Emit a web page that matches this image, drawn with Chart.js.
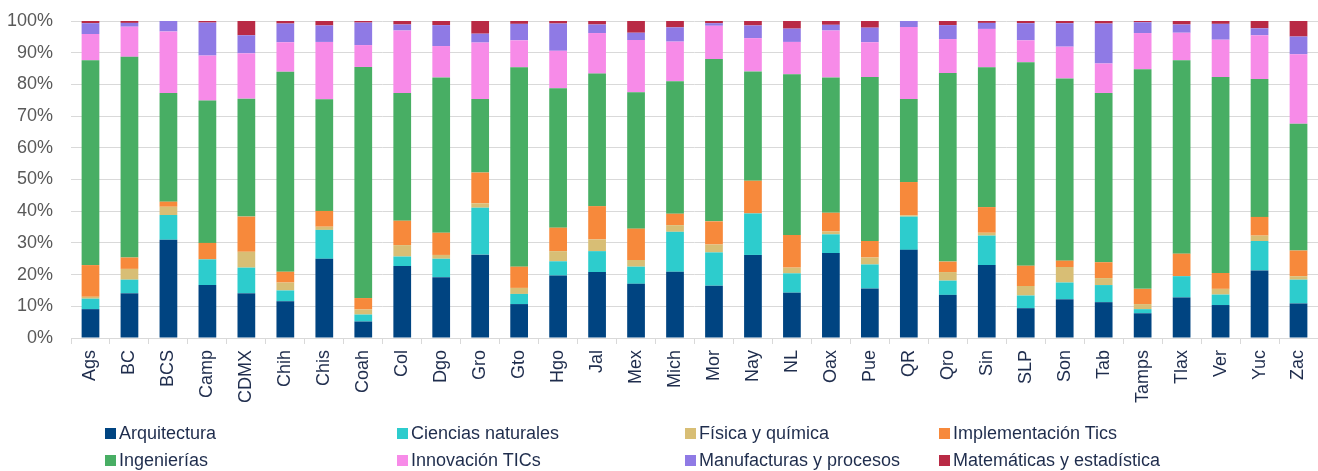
<!DOCTYPE html>
<html>
<head>
<meta charset="utf-8">
<script src="https://cdn.jsdelivr.net/npm/chart.js@4"></script>
<style>
  html, body { margin: 0; padding: 0; background: #ffffff; }
  #wrap { position: relative; width: 1318px; height: 471px; overflow: hidden; }
  #legend { position: absolute; left: 0; top: 0; width: 1318px; height: 471px; pointer-events: none; }
  .li { position: absolute; display: flex; align-items: center; height: 22px; white-space: nowrap;
        font-family: "Liberation Sans", Arial, sans-serif; font-size: 18px; color: #1f2d4d; }
  .sw { width: 11px; height: 11px; margin-right: 3px; flex: none; }
</style>
</head>
<body>
<div id="wrap">
  <canvas id="c" width="1318" height="471"></canvas>
  <div id="legend"></div>
</div>
<script>
const categories = ["Ags","BC","BCS","Camp","CDMX","Chih","Chis","Coah","Col","Dgo","Gro","Gto","Hgo","Jal","Mex","Mich","Mor","Nay","NL","Oax","Pue","QR","Qro","Sin","SLP","Son","Tab","Tamps","Tlax","Ver","Yuc","Zac"];

const seriesNames = ["Arquitectura","Ciencias naturales","Física y química","Implementación Tics","Ingenierías","Innovación TICs","Manufacturas y procesos","Matemáticas y estadística"];

const arquitectura   = [9.1,14.1,31.0,16.7,14.1,11.6,25.0,5.2,22.7,19.2,26.3,10.7,19.7,20.8,17.1,20.9,16.5,26.2,14.3,26.8,15.6,27.8,13.6,23.0,9.4,12.2,11.3,7.8,12.8,10.4,21.3,10.9];
const ciencias       = [3.3,4.3,7.8,8.1,8.1,3.4,9.1,2.2,3.0,5.8,14.8,3.2,4.5,6.6,5.4,12.6,10.5,13.1,6.1,5.9,7.6,10.5,4.5,9.3,4.0,5.3,5.4,1.3,6.7,3.3,9.3,7.5];
const fisica         = [0.6,3.4,2.6,0,5.0,2.5,1.0,1.6,3.6,1.2,1.4,1.9,3.2,3.7,2.1,2.1,2.5,0,1.8,0.9,2.2,0.4,2.7,0.9,3.0,4.9,2.2,1.6,0,1.8,1.7,1.1];
const implementacion = [10.0,3.6,1.6,5.2,11.1,3.4,5.0,3.6,7.7,7.0,9.7,6.7,7.4,10.5,9.9,3.6,7.3,10.3,10.3,5.9,5.2,10.5,3.3,8.1,6.4,2.0,5.0,4.8,7.1,5.0,5.9,8.1];
const ingenierias    = [64.6,63.3,34.3,44.9,37.2,63.1,35.2,72.9,40.3,49.0,23.2,62.9,44.0,41.8,43.0,41.8,51.2,34.5,50.7,42.7,51.7,26.2,59.5,44.1,64.2,57.5,53.4,69.3,61.0,61.8,43.5,40.0];
const innovacion     = [8.3,9.5,19.4,14.2,14.3,9.3,18.1,6.9,19.7,9.9,17.8,8.5,11.8,12.8,16.5,12.5,10.5,10.5,10.2,14.8,11.0,22.7,10.7,12.1,6.9,10.0,9.3,11.4,8.7,11.8,13.8,21.9];
const manufacturas   = [3.4,1.2,3.3,10.4,5.7,5.9,5.2,7.1,1.9,6.6,2.8,5.2,8.6,2.7,2.3,4.5,0.8,4.0,4.2,1.8,4.6,1.9,4.4,1.9,5.4,7.4,12.6,3.4,2.6,5.0,2.2,5.6];
const matematicas    = [0.7,0.6,0,0.5,4.5,0.8,1.4,0.5,1.1,1.3,4.0,0.9,0.8,1.1,3.7,2.0,0.7,1.4,2.4,1.2,2.1,0,1.3,0.6,0.7,0.7,0.8,0.4,1.1,0.9,2.3,4.9];

const yTicks = [0,10,20,30,40,50,60,70,80,90,100];

const seriesValues = [arquitectura, ciencias, fisica, implementacion, ingenierias, innovacion, manufacturas, matematicas];
const colors = ["#004481","#2DCCCD","#D8BE75","#F7893B","#48AE64","#F78BE8","#8F7AE5","#B92A45"];

const datasets = seriesNames.map((name, i) => ({
  label: name,
  data: seriesValues[i],
  backgroundColor: colors[i],
  borderWidth: 0,
  categoryPercentage: 1.0,
  barPercentage: 0.455
}));

const FONT = "'Liberation Sans', Arial, sans-serif";

const chart = new Chart(document.getElementById('c'), {
  type: 'bar',
  data: { labels: categories, datasets: datasets },
  options: {
    responsive: false,
    animation: false,
    devicePixelRatio: 1,
    layout: { padding: { top: 21, right: 0, left: 0, bottom: 0 } },
    plugins: { legend: { display: false }, tooltip: { enabled: false } },
    events: [],
    scales: {
      x: {
        stacked: true,
        grid: { offset: true, drawOnChartArea: false, drawTicks: true, tickLength: 6, color: '#d9d9d9', lineWidth: 1 },
        border: { display: true, color: '#d9d9d9', width: 1 },
        ticks: { autoSkip: false, minRotation: 90, maxRotation: 90, padding: 6,
                 font: { family: FONT, size: 18 }, color: '#1f2d4d' },
        afterFit: s => { s.height = 133; s.paddingLeft = 0; s.paddingRight = 0; s.paddingTop = 0; s.paddingBottom = 0; }
      },
      y: {
        stacked: true,
        min: 0, max: 100,
        afterBuildTicks: s => { s.ticks = yTicks.map(v => ({ value: v })); },
        grid: { color: '#d9d9d9', lineWidth: 1, drawTicks: false },
        border: { display: false },
        ticks: { padding: 18, callback: v => v + '%', font: { family: FONT, size: 18 }, color: '#595959' },
        afterFit: s => { s.width = 71; s.paddingTop = 0; s.paddingBottom = 0; s.paddingLeft = 0; s.paddingRight = 0; }
      }
    }
  }
});

// HTML legend built from the chart's datasets
const legendCols = [105, 397, 685, 939];
const legendRows = [433, 460];
const lg = document.getElementById('legend');
chart.data.datasets.forEach((ds, i) => {
  const item = document.createElement('div');
  item.className = 'li';
  item.style.left = legendCols[i % 4] + 'px';
  item.style.top = (legendRows[Math.floor(i / 4)] - 11) + 'px';
  const sw = document.createElement('span');
  sw.className = 'sw';
  sw.style.background = ds.backgroundColor;
  const tx = document.createElement('span');
  tx.textContent = ds.label;
  item.appendChild(sw);
  item.appendChild(tx);
  lg.appendChild(item);
});
</script>
</body>
</html>
